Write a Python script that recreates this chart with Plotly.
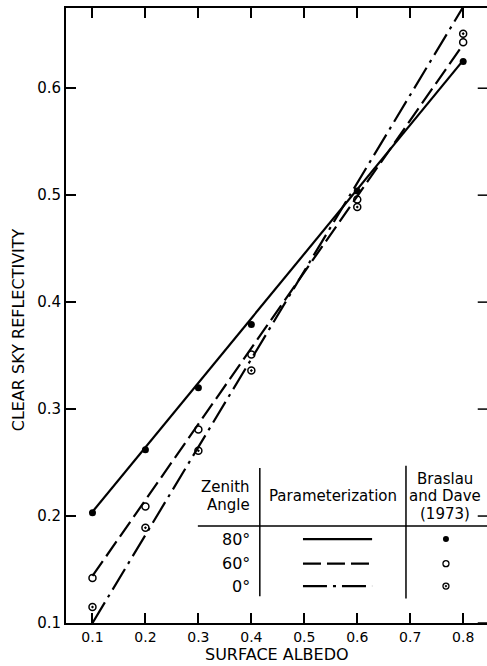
import plotly.graph_objects as go

# ---- data ----
albedo = [0.1, 0.2, 0.3, 0.4, 0.6, 0.8]
bd_80 = [0.203, 0.262, 0.320, 0.379, 0.504, 0.625]
bd_60 = [0.142, 0.209, 0.281, 0.351, 0.496, 0.643]
bd_0 = [0.115, 0.189, 0.261, 0.336, 0.489, 0.651]

param_x = [0.1, 0.8]
param_80 = [0.204, 0.626]
param_60 = [0.144, 0.641]
param_0 = [0.100, 0.676]

x_ticks = [0.1, 0.2, 0.3, 0.4, 0.5, 0.6, 0.7, 0.8]
x_tick_labels = ["0.1", "0.2", "0.3", "0.4", "0.5", "0.6", "0.7", "0.8"]
y_ticks = [0.1, 0.2, 0.3, 0.4, 0.5, 0.6]
y_tick_labels = ["0.1", "0.2", "0.3", "0.4", "0.5", "0.6"]

angles = ["80°", "60°", "0°"]

FONT = "DejaVu Sans"
X_RANGE = [0.05, 0.845]
Y_RANGE = [0.1, 0.675]

fig = go.Figure()

line_styles = ["solid", "18px,6px", "24px,6px,3px,6px"]
for ys, dash in zip([param_80, param_60, param_0], line_styles):
    fig.add_trace(go.Scatter(x=param_x, y=ys, mode="lines",
                             line=dict(color="black", width=2.2, dash=dash),
                             showlegend=False, hoverinfo="skip"))

marker_styles = [
    dict(symbol="circle", size=7, color="black"),
    dict(symbol="circle-open", size=7, color="black", line=dict(width=1.5)),
    dict(symbol="circle-open-dot", size=7, color="black", line=dict(width=1.5)),
]
for ys, mk in zip([bd_80, bd_60, bd_0], marker_styles):
    fig.add_trace(go.Scatter(x=albedo, y=ys, mode="markers", marker=mk,
                             showlegend=False, hoverinfo="skip"))

# ---- legend table (positions in data units) ----
row_y = [0.1785, 0.1555, 0.1345]
sample_x0, sample_x1 = 0.4975, 0.628
key_x = 0.7675
hline_y = 0.1907
vline1_x, vline2_x = 0.416, 0.692
vline_top, vline_bot = 0.245, 0.125

shapes = [
    dict(type="line", xref="x", yref="y", x0=0.299, x1=X_RANGE[1], y0=hline_y, y1=hline_y,
         line=dict(color="black", width=1.5)),
    dict(type="line", xref="x", yref="y", x0=vline1_x, x1=vline1_x, y0=vline_top, y1=vline_bot,
         line=dict(color="black", width=1.5)),
    dict(type="line", xref="x", yref="y", x0=vline2_x, x1=vline2_x, y0=vline_top + 0.002, y1=vline_bot - 0.002,
         line=dict(color="black", width=1.5)),
]
for yv, dash in zip(row_y, line_styles):
    shapes.append(dict(type="line", xref="x", yref="y", x0=sample_x0, x1=sample_x1,
                       y0=yv, y1=yv, line=dict(color="black", width=2.2, dash=dash)))

# right-hand inside tick marks (the right border itself lies beyond the page edge)
for yv in y_ticks:
    shapes.append(dict(type="line", xref="paper", yref="y", x0=0.978, x1=1.0,
                       y0=yv, y1=yv, line=dict(color="black", width=1.5)))

key_markers = [
    dict(symbol="circle", size=6, color="black"),
    dict(symbol="circle-open", size=6, color="black", line=dict(width=1.3)),
    dict(symbol="circle-open-dot", size=6, color="black", line=dict(width=1.3)),
]
for yv, mk in zip(row_y, key_markers):
    fig.add_trace(go.Scatter(x=[key_x], y=[yv], mode="markers", marker=mk,
                             showlegend=False, hoverinfo="skip"))

annotations = []
tf = dict(family=FONT, size=15, color="black")
annotations.append(dict(x=0.401, y=0.2275, xref="x", yref="y", text="Zenith", showarrow=False,
                        xanchor="right", yanchor="middle", font=tf))
annotations.append(dict(x=0.401, y=0.2105, xref="x", yref="y", text="Angle", showarrow=False,
                        xanchor="right", yanchor="middle", font=tf))
annotations.append(dict(x=0.554, y=0.2185, xref="x", yref="y", text="Parameterization", showarrow=False,
                        xanchor="center", yanchor="middle", font=tf))
for txt, yv in zip(["Braslau", "and Dave", "(1973)"], [0.2345, 0.2185, 0.2015]):
    annotations.append(dict(x=0.766, y=yv, xref="x", yref="y", text=txt, showarrow=False,
                            xanchor="center", yanchor="middle", font=tf))
for txt, yv in zip(angles, row_y):
    annotations.append(dict(x=0.401, y=yv, xref="x", yref="y", text=txt, showarrow=False,
                            xanchor="right", yanchor="middle", font=dict(family=FONT, size=16, color="black")))

# axis titles
annotations.append(dict(x=0.501, y=-0.052, xref="paper", yref="paper", text="SURFACE ALBEDO",
                        showarrow=False, xanchor="center", yanchor="middle",
                        font=dict(family=FONT, size=16, color="black")))
annotations.append(dict(x=-0.114, y=0.476, xref="paper", yref="paper", text="CLEAR SKY REFLECTIVITY",
                        showarrow=False, xanchor="center", yanchor="middle", textangle=-90,
                        font=dict(family=FONT, size=16, color="black")))

fig.update_layout(
    width=487, height=666,
    margin=dict(l=66, r=0, t=8, b=43),
    paper_bgcolor="white", plot_bgcolor="white",
    shapes=shapes, annotations=annotations,
    xaxis=dict(range=X_RANGE, tickvals=x_ticks, ticktext=x_tick_labels,
               showline=True, linecolor="black", linewidth=2, mirror="ticks",
               ticks="inside", ticklen=10, tickwidth=1.5, tickcolor="black",
               showgrid=False, zeroline=False,
               tickfont=dict(family=FONT, size=14, color="black")),
    yaxis=dict(range=Y_RANGE, tickvals=y_ticks, ticktext=y_tick_labels,
               showline=True, linecolor="black", linewidth=2,
               ticks="inside", ticklen=10, tickwidth=1.5, tickcolor="black",
               showgrid=False, zeroline=False,
               tickfont=dict(family=FONT, size=15, color="black")),
)

fig.write_html("out.html", config={"displayModeBar": False},
               post_script="document.body.style.margin='0px';document.body.style.overflow='hidden';")
